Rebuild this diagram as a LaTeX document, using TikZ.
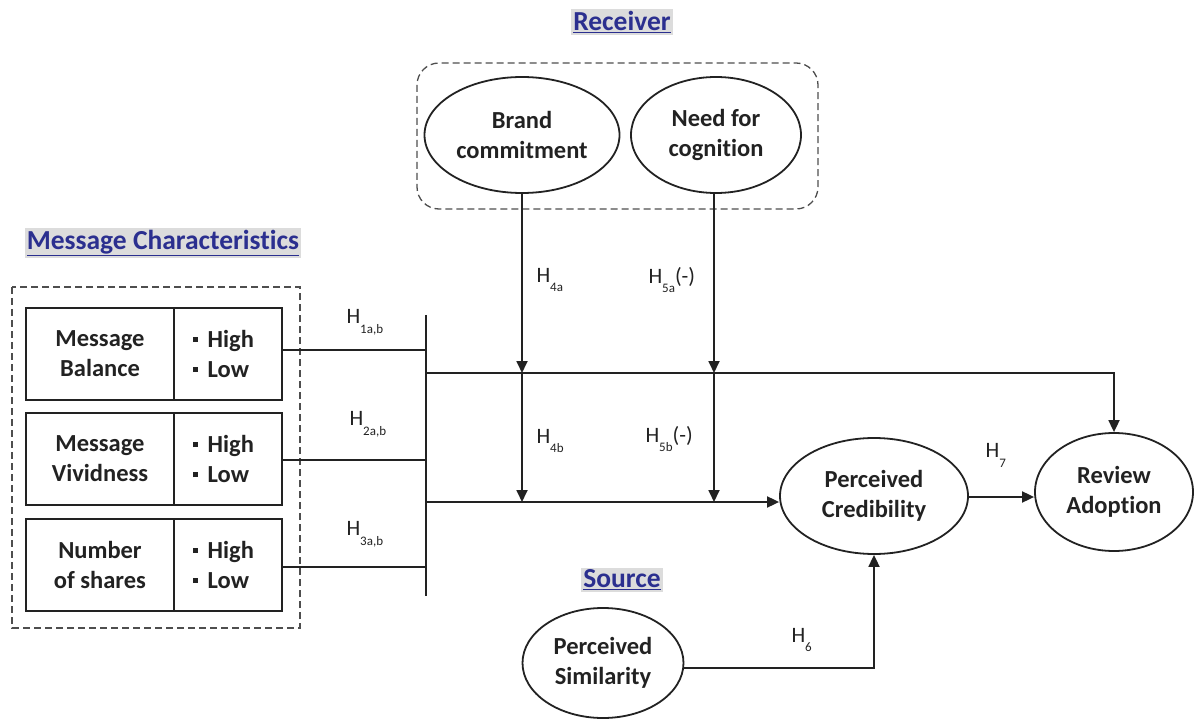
\documentclass[tikz,border=0pt]{standalone}
\usepackage{fontspec}
\setmainfont{Carlito}[Ligatures=NoCommon]
\usetikzlibrary{shapes.geometric,arrows.meta,calc}
\definecolor{ttl}{HTML}{2B2F8F}
\definecolor{ttlbg}{HTML}{DCDCDC}
\definecolor{ink}{HTML}{222222}
\newcommand{\bul}{\raisebox{0.22em}{\rule{0.2em}{0.2em}}\hspace{0.4em}}
\newcommand{\hyp}[1]{H\raisebox{-0.45em}{\fontsize{13}{13}\selectfont #1}}
\begin{document}
\begin{tikzpicture}[x=1pt,y=-1pt,
  every node/.style={text=ink},
  lbl/.style={font=\bfseries\fontsize{24.5}{30}\selectfont, align=center},
  oval/.style={ellipse, draw=ink, line width=1.8pt, inner sep=0pt, lbl},
  cell/.style={draw=ink, line width=2.4pt, minimum height=92pt, inner sep=0pt, lbl},
  title/.style={fill=ttlbg, text=ttl, font=\bfseries\fontsize{27.5}{32}\selectfont, inner sep=2pt},
  hlab/.style={font=\fontsize{22}{26}\selectfont, text=ink},
  conn/.style={draw=ink, line width=1.8pt},
  arr/.style={conn, -{Triangle[length=12pt,width=11pt]}},
  dbox/.style={draw=ink!80, dashed, line width=1.3pt, dash pattern=on 7pt off 4pt}
]
\useasboundingbox (0,0) rectangle (1194,719);

% titles
\node[title] (trec) at (622,22) {\underline{Receiver}};
\node[title] (tmsg) at (163,243) {\underline{Message Characteristics}};
\node[title] (tsrc) at (622,580) {\underline{Source}};

% receiver group
\draw[dbox, rounded corners=22pt] (417,63) rectangle (818,209);
\node[oval, minimum width=195pt, minimum height=116pt] (bc) at (522,135) {Brand\\commitment};
\node[oval, minimum width=170pt, minimum height=116pt] (nc) at (716,135) {Need for\\cognition};

% message characteristics group
\draw[dbox] (12,287) rectangle (300,628);
\node[cell, minimum width=148pt] (m1) at (100,354) {Message\\Balance};
\node[cell, minimum width=108pt, align=left, text width=70pt] (r1) at (228,354) {\bul High\\\bul Low};
\node[cell, minimum width=148pt] (m2) at (100,459) {Message\\Vividness};
\node[cell, minimum width=108pt, align=left, text width=70pt] (r2) at (228,459) {\bul High\\\bul Low};
\node[cell, minimum width=148pt] (m3) at (100,565) {Number\\of shares};
\node[cell, minimum width=108pt, align=left, text width=70pt] (r3) at (228,565) {\bul High\\\bul Low};

% right-hand constructs
\node[oval, minimum width=188pt, minimum height=116pt] (pc) at (874,496) {Perceived\\Credibility};
\node[oval, minimum width=158pt, minimum height=118pt] (ra) at (1114,492) {Review\\Adoption};
\node[oval, minimum width=161pt, minimum height=110pt] (ps) at (603,663) {Perceived\\Similarity};

% junction coordinates
\coordinate (bt) at (426,315);
\coordinate (bb) at (426,596);
\coordinate (b1) at (426,350);
\coordinate (b2) at (426,460);
\coordinate (b3) at (426,567);
\coordinate (a1) at (426,373);
\coordinate (a2) at (426,502);
\coordinate (k1) at (1114,373);
\coordinate (j1) at (522,373);
\coordinate (j2) at (522,502);
\coordinate (n1) at (714,373);
\coordinate (n2) at (714,502);

% bar and inputs
\draw[conn, line width=2.2pt] (bt) -- (bb);
\draw[conn] (r1.east |- b1) -- (b1);
\draw[conn] (r2.east |- b2) -- (b2);
\draw[conn] (r3.east |- b3) -- (b3);

% main paths
\draw[arr] (a1) -- (k1) -- (ra.north);
\draw[arr] (a2) -- (pc.west |- a2);

% moderators
\draw[arr] (bc.south -| j1) -- (j1);
\draw[arr] (j1) -- (j2);
\draw[arr] (nc.south -| n1) -- (n1);
\draw[arr] (n1) -- (n2);

% credibility -> adoption
\draw[arr] (pc.east |- 0,497) -- (ra.west |- 0,497);

% similarity -> credibility
\draw[arr] (ps.east |- 0,668) -- (pc.south |- 0,668) -- (pc.south);

% hypothesis labels
\node[hlab, anchor=west] (h1) at (343,322) {\hyp{1a,b}};
\node[hlab, anchor=west] (h2) at (346,424) {\hyp{2a,b}};
\node[hlab, anchor=west] (h3) at (343,534) {\hyp{3a,b}};
\node[hlab, anchor=west] (h4a) at (533,280) {\hyp{4a}};
\node[hlab, anchor=west] (h5a) at (645,280) {\hyp{5a}(-)};
\node[hlab, anchor=west] (h4b) at (533,441) {\hyp{4b}};
\node[hlab, anchor=west] (h5b) at (642,439) {\hyp{5b}(-)};
\node[hlab, anchor=west] (h7) at (982,455) {\hyp{7}};
\node[hlab, anchor=west] (h6) at (788,640) {\hyp{6}};
\end{tikzpicture}
\end{document}
